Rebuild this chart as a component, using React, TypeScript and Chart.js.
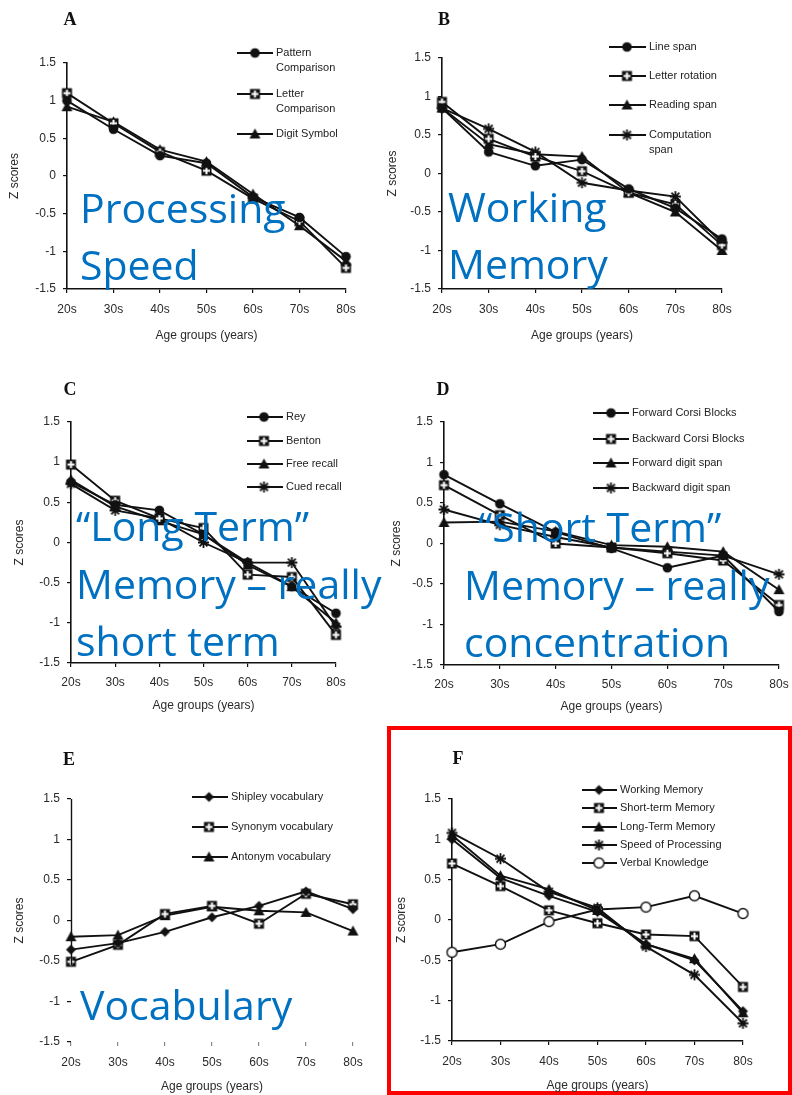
import React, { useEffect, useRef } from 'react';
import { Chart, registerables } from 'chart.js';

Chart.register(...registerables);
Chart.defaults.font.family = "'Liberation Sans', Arial, sans-serif";

// ---------- data ----------
const ageGroups = ['20s', '30s', '40s', '50s', '60s', '70s', '80s'];
const zTickLabels = ['-1.5', '-1', '-0.5', '0', '0.5', '1', '1.5'];
const yAxisTitle = 'Z scores';
const xAxisTitle = 'Age groups (years)';

// A – processing speed
const namesA = ['Pattern Comparison', 'Letter Comparison', 'Digit Symbol'];
const patternComparison = [1.0, 0.62, 0.27, 0.17, -0.28, -0.55, -1.07];
const letterComparison = [1.1, 0.7, 0.32, 0.07, -0.3, -0.6, -1.22];
const digitSymbol = [0.92, 0.72, 0.35, 0.19, -0.24, -0.66, -1.13];

// B – working memory
const namesB = ['Line span', 'Letter rotation', 'Reading span', 'Computation span'];
const lineSpan = [0.85, 0.28, 0.1, 0.18, -0.2, -0.45, -0.85];
const letterRotation = [0.93, 0.45, 0.22, 0.03, -0.25, -0.4, -0.93];
const readingSpan = [0.85, 0.38, 0.25, 0.22, -0.25, -0.5, -1.0];
const computationSpan = [0.85, 0.58, 0.28, -0.12, -0.22, -0.3, -0.9];

// C – long term memory
const namesC = ['Rey', 'Benton', 'Free recall', 'Cued recall'];
const rey = [0.75, 0.47, 0.4, 0.1, -0.25, -0.55, -0.88];
const benton = [0.97, 0.52, 0.3, 0.18, -0.4, -0.43, -1.15];
const freeRecall = [0.78, 0.45, 0.27, 0.1, -0.28, -0.55, -1.0];
const cuedRecall = [0.73, 0.4, 0.3, 0.0, -0.25, -0.25, -1.05];

// D – short term memory
const namesD = ['Forward Corsi Blocks', 'Backward Corsi Blocks', 'Forward digit span', 'Backward digit span'];
const forwardCorsi = [0.85, 0.49, 0.14, -0.06, -0.3, -0.15, -0.84];
const backwardCorsi = [0.72, 0.35, 0.0, -0.05, -0.12, -0.21, -0.76];
const forwardDigit = [0.26, 0.27, 0.15, -0.02, -0.04, -0.1, -0.57];
const backwardDigit = [0.42, 0.23, 0.08, -0.05, -0.1, -0.15, -0.38];

// E – vocabulary
const namesE = ['Shipley vocabulary', 'Synonym vocabulary', 'Antonym vocabulary'];
const shipley = [-0.36, -0.28, -0.14, 0.04, 0.18, 0.36, 0.14];
const synonym = [-0.51, -0.3, 0.08, 0.18, -0.04, 0.33, 0.2];
const antonym = [-0.2, -0.18, 0.06, 0.17, 0.12, 0.1, -0.13];

// F – composites
const namesF = ['Working Memory', 'Short-term Memory', 'Long-Term Memory', 'Speed of Processing', 'Verbal Knowledge'];
const workingMemory = [1.0, 0.52, 0.3, 0.1, -0.3, -0.5, -1.13];
const shortTermMemory = [0.7, 0.42, 0.12, -0.04, -0.18, -0.2, -0.83];
const longTermMemory = [1.05, 0.55, 0.38, 0.12, -0.3, -0.48, -1.15];
const speedOfProcessing = [1.08, 0.76, 0.35, 0.15, -0.33, -0.68, -1.28];
const verbalKnowledge = [-0.4, -0.3, -0.02, 0.13, 0.16, 0.3, 0.08];

// overlay captions
const captionA = ['Processing', 'Speed'];
const captionB = ['Working', 'Memory'];
const captionC = ['\u201CLong Term\u201D', 'Memory \u2013 really', 'short term'];
const captionD = ['\u201CShort Term\u201D', 'Memory \u2013 really', 'concentration'];
const captionE = ['Vocabulary'];

// ---------- styling / layout ----------
type MarkerKind = 'circle' | 'square' | 'triangle' | 'star' | 'diamond' | 'openCircle';

function makeMarker(kind: MarkerKind): HTMLCanvasElement {
  const s = 15;
  const c = document.createElement('canvas');
  c.width = s;
  c.height = s;
  const g = c.getContext('2d')!;
  const m = s / 2;
  g.fillStyle = '#111';
  g.strokeStyle = '#111';
  if (kind === 'circle') {
    g.beginPath(); g.arc(m, m, 4.8, 0, Math.PI * 2); g.fill();
  } else if (kind === 'openCircle') {
    g.beginPath(); g.arc(m, m, 5, 0, Math.PI * 2);
    g.fillStyle = '#fff'; g.fill(); g.lineWidth = 1.4; g.stroke();
  } else if (kind === 'square') {
    g.fillRect(m - 5, m - 5, 10, 10);
    g.fillStyle = '#fff';
    g.fillRect(m - 1, m - 3.5, 2, 7);
    g.fillRect(m - 3.5, m - 1, 7, 2);
  } else if (kind === 'triangle') {
    g.beginPath(); g.moveTo(m, m - 5.5); g.lineTo(m + 5.5, m + 4.5); g.lineTo(m - 5.5, m + 4.5); g.closePath(); g.fill();
  } else if (kind === 'diamond') {
    g.beginPath(); g.moveTo(m, m - 5); g.lineTo(m + 5, m); g.lineTo(m, m + 5); g.lineTo(m - 5, m); g.closePath(); g.fill();
  } else {
    const r = 5.5;
    const d = r * 0.72;
    g.lineWidth = 1.8;
    g.beginPath();
    g.moveTo(m - r, m); g.lineTo(m + r, m);
    g.moveTo(m, m - r); g.lineTo(m, m + r);
    g.moveTo(m - d, m - d); g.lineTo(m + d, m + d);
    g.moveTo(m - d, m + d); g.lineTo(m + d, m - d);
    g.stroke();
  }
  return c;
}

interface Series { name: string; values: number[]; marker: MarkerKind }
interface LegendCfg { x1: number; x2: number; mx: number; tx: number; rows: number[]; wrap: number }
interface PanelCfg {
  key: string;
  series: Series[];
  area: [number, number, number, number];
  yTitleX: number;
  xLabelDy: number;
  xTitleDy: number;
  legend: LegendCfg;
  faded?: boolean;
}

const mk = (names: string[], values: number[][], markers: MarkerKind[]): Series[] =>
  names.map((n, i) => ({ name: n, values: values[i], marker: markers[i] }));

const panels: PanelCfg[] = [
  {
    key: 'A',
    series: mk(namesA, [patternComparison, letterComparison, digitSymbol], ['circle', 'square', 'triangle']),
    area: [67, 63, 346, 289], yTitleX: 15, xLabelDy: 21, xTitleDy: 47,
    legend: { x1: 237, x2: 273, mx: 255, tx: 276, rows: [53, 94, 134], wrap: 66 },
  },
  {
    key: 'B',
    series: mk(namesB, [lineSpan, letterRotation, readingSpan, computationSpan], ['circle', 'square', 'triangle', 'star']),
    area: [442, 58, 722, 289], yTitleX: 393, xLabelDy: 21, xTitleDy: 47,
    legend: { x1: 609, x2: 646, mx: 627, tx: 649, rows: [47, 76, 105, 135], wrap: 80 },
  },
  {
    key: 'C',
    series: mk(namesC, [rey, benton, freeRecall, cuedRecall], ['circle', 'square', 'triangle', 'star']),
    area: [71, 422, 336, 663], yTitleX: 20, xLabelDy: 20, xTitleDy: 43,
    legend: { x1: 247, x2: 283, mx: 264, tx: 286, rows: [417, 441, 464, 487], wrap: 200 },
  },
  {
    key: 'D',
    series: mk(namesD, [forwardCorsi, backwardCorsi, forwardDigit, backwardDigit], ['circle', 'square', 'triangle', 'star']),
    area: [444, 422, 779, 665], yTitleX: 397, xLabelDy: 20, xTitleDy: 42,
    legend: { x1: 593, x2: 629, mx: 611, tx: 632, rows: [413, 439, 463, 488], wrap: 200 },
  },
  {
    key: 'E',
    series: mk(namesE, [shipley, synonym, antonym], ['diamond', 'square', 'triangle']),
    area: [71, 799, 353, 1042], yTitleX: 20, xLabelDy: 21, xTitleDy: 45,
    legend: { x1: 192, x2: 228, mx: 209, tx: 231, rows: [797, 827, 857], wrap: 200 },
    faded: true,
  },
  {
    key: 'F',
    series: mk(namesF, [workingMemory, shortTermMemory, longTermMemory, speedOfProcessing, verbalKnowledge],
      ['diamond', 'square', 'triangle', 'star', 'openCircle']),
    area: [452, 799, 743, 1041], yTitleX: 402, xLabelDy: 21, xTitleDy: 45,
    legend: { x1: 582, x2: 617, mx: 599, tx: 620, rows: [790, 808, 827, 845, 863], wrap: 200 },
  },
];

const letters: { t: string; x: number; y: number }[] = [
  { t: 'A', x: 70, y: 25 },
  { t: 'B', x: 444, y: 25 },
  { t: 'C', x: 70, y: 395 },
  { t: 'D', x: 443, y: 395 },
  { t: 'E', x: 69, y: 765 },
  { t: 'F', x: 458, y: 764 },
];

const captions: { lines: string[]; xs: number[]; ys: number[] }[] = [
  { lines: captionA, xs: [80, 80], ys: [223, 280] },
  { lines: captionB, xs: [448, 448], ys: [222, 279] },
  { lines: captionC, xs: [76, 76, 76], ys: [541, 599, 656] },
  { lines: captionD, xs: [478, 464, 464], ys: [542, 600, 657] },
  { lines: captionE, xs: [80], ys: [1020] },
];

const TEXT = '#2a2a2a';
const FONT = "'Liberation Sans', Arial, sans-serif";

function Panel({ cfg }: { cfg: PanelCfg }) {
  const ref = useRef<HTMLCanvasElement>(null);
  const [L, T, R, B] = cfg.area;
  const cl = L - 80;
  const ct = T - 75;
  const cw = R - L + 130;
  const ch = B - T + 75 + 70;

  useEffect(() => {
    const canvas = ref.current;
    if (!canvas) return;
    const lh = 12 * 1.2;
    const padLeft = cfg.yTitleX - cl - 4 - lh / 2;
    const yWidth = L - cl - padLeft;
    const xHeight = cfg.xTitleDy + 4 + lh / 2;
    const padTop = T - ct;
    const padBottom = ch - (B - ct) - xHeight;
    const padRight = cw - (R - cl);
    const markers = cfg.series.map((s) => makeMarker(s.marker));
    const lg = cfg.legend;

    const panelPlugin = {
      id: 'panelExtras' + cfg.key,
      afterDraw(chart: any) {
        const ctx = chart.ctx as CanvasRenderingContext2D;
        ctx.save();
        if (cfg.faded) {
          const y = chart.scales.y;
          const x0 = Math.round(chart.chartArea.left) + 0.5;
          ctx.strokeStyle = '#111';
          ctx.lineWidth = 1.4;
          ctx.beginPath();
          ctx.moveTo(x0, y.getPixelForValue(1.5));
          ctx.lineTo(x0, y.getPixelForValue(-0.55));
          ctx.stroke();
        }
        ctx.font = `11px ${FONT}`;
        ctx.fillStyle = '#222';
        ctx.textBaseline = 'middle';
        ctx.textAlign = 'left';
        cfg.series.forEach((s, i) => {
          const y = lg.rows[i] - ct;
          ctx.strokeStyle = '#111';
          ctx.lineWidth = 1.8;
          ctx.beginPath();
          ctx.moveTo(lg.x1 - cl, y);
          ctx.lineTo(lg.x2 - cl, y);
          ctx.stroke();
          const img = markers[i];
          ctx.drawImage(img, lg.mx - cl - img.width / 2, y - img.height / 2);
          const words = s.name.split(' ');
          const lines: string[] = [];
          let cur = '';
          words.forEach((w) => {
            const test = cur ? cur + ' ' + w : w;
            if (cur && ctx.measureText(test).width > lg.wrap) {
              lines.push(cur);
              cur = w;
            } else cur = test;
          });
          if (cur) lines.push(cur);
          lines.forEach((ln, j) => ctx.fillText(ln, lg.tx - cl, y + j * 15));
        });
        ctx.restore();
      },
    };

    const axisGrid = (faded: boolean) => ({
      display: true,
      drawOnChartArea: false,
      drawTicks: true,
      tickLength: 4,
      color: faded ? '#888' : '#111',
      lineWidth: 1.2,
    });

    const chart = new Chart(canvas, {
      type: 'line',
      data: {
        labels: ageGroups,
        datasets: cfg.series.map((s, i) => ({
          label: s.name,
          data: s.values,
          borderColor: '#111',
          backgroundColor: '#111',
          borderWidth: 1.9,
          pointStyle: markers[i] as any,
          pointRadius: 5,
          fill: false,
          tension: 0,
          clip: false as any,
        })),
      },
      options: {
        responsive: false,
        maintainAspectRatio: false,
        animation: false,
        events: [],
        layout: { padding: { left: padLeft, right: padRight, top: padTop, bottom: padBottom } },
        plugins: { legend: { display: false }, tooltip: { enabled: false }, title: { display: false } },
        scales: {
          x: {
            type: 'category',
            offset: false,
            grid: axisGrid(!!cfg.faded),
            border: { display: !cfg.faded, color: '#111', width: 1.6 },
            ticks: {
              color: TEXT,
              font: { size: 12, family: FONT },
              padding: cfg.xLabelDy - 4 - lh / 2,
              maxRotation: 0,
              autoSkip: false,
            },
            title: { display: true, text: xAxisTitle, color: TEXT, font: { size: 12, family: FONT }, padding: { top: 4, bottom: 4 } },
            afterFit: (s: any) => { s.height = xHeight; },
          },
          y: {
            type: 'linear',
            min: -1.5,
            max: 1.5,
            grid: axisGrid(false),
            border: { display: !cfg.faded, color: '#111', width: 1.6 },
            ticks: {
              stepSize: 0.5,
              color: TEXT,
              font: { size: 12, family: FONT },
              padding: 7,
              callback: (_v: any, i: number) => zTickLabels[i],
            },
            title: { display: true, text: yAxisTitle, color: TEXT, font: { size: 12, family: FONT }, padding: { top: 4, bottom: 4 } },
            afterFit: (s: any) => { s.width = yWidth; },
          },
        },
      } as any,
      plugins: [panelPlugin],
    });
    return () => chart.destroy();
  }, []);

  return (
    <canvas
      ref={ref}
      width={cw}
      height={ch}
      style={{ position: 'absolute', left: cl, top: ct, width: cw, height: ch }}
    />
  );
}

export default function App() {
  return (
    <div style={{ position: 'absolute', left: 0, top: 0, width: 792, height: 1095, overflow: 'hidden', background: '#fff' }}>
      <div
        style={{
          position: 'absolute', left: 387, top: 726, width: 405, height: 369,
          border: '4px solid #f00', boxSizing: 'border-box',
        }}
      />
      {panels.map((p) => (
        <Panel key={p.key} cfg={p} />
      ))}
      <svg width={792} height={1095} style={{ position: 'absolute', left: 0, top: 0, pointerEvents: 'none' }}>
        {letters.map((l) => (
          <text key={l.t} x={l.x} y={l.y} textAnchor="middle" fontFamily="'Liberation Serif', serif" fontWeight="bold" fontSize={18} fill="#111">
            {l.t}
          </text>
        ))}
        {captions.map((c, ci) =>
          c.lines.map((ln, li) => (
            <text key={ci + '-' + li} x={c.xs[li]} y={c.ys[li]} fontFamily="'Open Sans', sans-serif" fontSize={41} fill="#0070C0">
              {ln}
            </text>
          ))
        )}
      </svg>
    </div>
  );
}
